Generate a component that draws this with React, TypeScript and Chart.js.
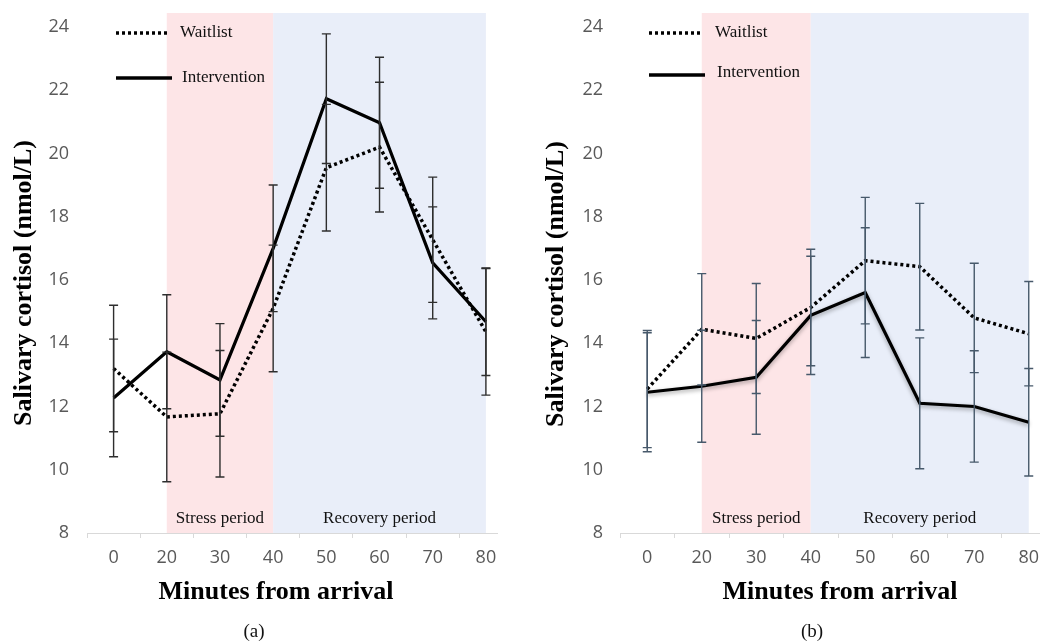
import React, { useEffect, useRef } from "react";
import { Chart, registerables } from "chart.js";
Chart.register(...registerables);

// ---- data ----
const minutes = ["0", "20", "30", "40", "50", "60", "70", "80"];
const yTicks = [8, 10, 12, 14, 16, 18, 20, 22, 24];
const stressStart = "20";
const stressEnd = "40";
const recoveryEnd = "80";

const waitlistA = [13.2, 11.67, 11.77, 15.1, 19.55, 20.2, 17.27, 14.36];
const waitlistASd = [2.0, 2.05, 2.0, 2.0, 2.0, 2.05, 1.98, 2.0];
const interventionA = [12.27, 13.73, 12.84, 17.0, 21.73, 20.97, 16.54, 14.68];
const interventionASd = [1.86, 1.8, 1.78, 2.0, 2.05, 2.07, 1.77, 1.7];

const waitlistB = [12.55, 14.44, 14.15, 15.13, 16.61, 16.42, 14.8, 14.3];
const waitlistBSd = [1.85, 1.76, 1.74, 1.84, 2.0, 2.0, 1.73, 1.65];
const interventionB = [12.45, 12.64, 12.92, 14.88, 15.6, 12.1, 12.0, 11.5];
const interventionBSd = [1.88, 1.77, 1.8, 1.87, 2.05, 2.07, 1.76, 1.7];

const SERIF = "'Liberation Serif', 'Times New Roman', serif";
const SANS = "'Open Sans', 'Noto Sans', sans-serif";

type PanelCfg = {
  left: number;
  clipWidth: number;
  canvasWidth: number;
  yAxisWidth: number;
  padRight: number;
  yTickPad: number;
  yTitleX: number;
  yTitleY: number;
  xTitleX: number;
  xTitleY: number;
  waitlist: number[];
  waitlistSd: number[];
  intervention: number[];
  interventionSd: number[];
  errColor: string;
  shadow: boolean;
  legend: { x0: number; x1: number; tx: number; y1: number; y2: number; ty2: number };
  caption: string;
  captionX: number;
};

function Panel({ cfg }: { cfg: PanelCfg }) {
  const ref = useRef<HTMLCanvasElement>(null);
  useEffect(() => {
    const periodPlugin = {
      id: "periods",
      beforeDatasetsDraw(chart: any) {
        const { ctx, chartArea: a } = chart;
        const x = chart.scales.x;
        const xs = x.getPixelForValue(minutes.indexOf(stressStart));
        const xm = x.getPixelForValue(minutes.indexOf(stressEnd));
        const xe = x.getPixelForValue(minutes.indexOf(recoveryEnd));
        ctx.save();
        ctx.fillStyle = "#fde5e7";
        ctx.fillRect(xs, a.top, xm - xs, a.bottom - a.top);
        ctx.fillStyle = "#e9eef9";
        ctx.fillRect(xm, a.top, xe - xm, a.bottom - a.top);
        ctx.fillStyle = "#111";
        ctx.font = `17px ${SERIF}`;
        ctx.textAlign = "center";
        ctx.textBaseline = "middle";
        ctx.fillText("Stress period", (xs + xm) / 2, a.bottom - 14);
        ctx.fillText("Recovery period", (xm + xe) / 2, a.bottom - 14);
        ctx.restore();
      },
    };
    const shadowPlugin = {
      id: "shadow",
      beforeDatasetDraw(chart: any, args: any) {
        if (cfg.shadow && args.index === 1) {
          const ctx = chart.ctx;
          ctx.save();
          ctx.shadowColor = "rgba(0,0,0,0.35)";
          ctx.shadowBlur = 4;
          ctx.shadowOffsetY = 2;
        }
      },
      afterDatasetDraw(chart: any, args: any) {
        if (cfg.shadow && args.index === 1) chart.ctx.restore();
      },
    };
    const errPlugin = {
      id: "errbars",
      afterDatasetsDraw(chart: any) {
        const { ctx } = chart;
        const x = chart.scales.x;
        const y = chart.scales.y;
        const sets = [
          [cfg.waitlist, cfg.waitlistSd],
          [cfg.intervention, cfg.interventionSd],
        ];
        ctx.save();
        ctx.strokeStyle = cfg.errColor;
        ctx.lineWidth = 1.4;
        sets.forEach(([vals, sds]) => {
          vals.forEach((v, i) => {
            const px = x.getPixelForValue(i);
            const t = y.getPixelForValue(v + sds[i]);
            const b = y.getPixelForValue(v - sds[i]);
            ctx.beginPath();
            ctx.moveTo(px, t);
            ctx.lineTo(px, b);
            ctx.moveTo(px - 4.5, t);
            ctx.lineTo(px + 4.5, t);
            ctx.moveTo(px - 4.5, b);
            ctx.lineTo(px + 4.5, b);
            ctx.stroke();
          });
        });
        ctx.restore();
      },
    };
    const legendPlugin = {
      id: "customLegend",
      afterDraw(chart: any) {
        const { ctx } = chart;
        const L = cfg.legend;
        ctx.save();
        ctx.strokeStyle = "#000";
        ctx.lineWidth = 3.5;
        ctx.setLineDash([3, 3]);
        ctx.beginPath();
        ctx.moveTo(L.x0, L.y1);
        ctx.lineTo(L.x1, L.y1);
        ctx.stroke();
        ctx.setLineDash([]);
        ctx.beginPath();
        ctx.moveTo(L.x0, L.y2);
        ctx.lineTo(L.x1 + 2, L.y2);
        ctx.stroke();
        ctx.fillStyle = "#111";
        ctx.font = `17px ${SERIF}`;
        ctx.textAlign = "left";
        ctx.textBaseline = "middle";
        ctx.fillText("Waitlist", L.tx, L.y1);
        ctx.fillText("Intervention", L.tx + 2, L.ty2);

        // axis titles
        ctx.fillStyle = "#000";
        ctx.font = `bold 26px ${SERIF}`;
        ctx.textAlign = "center";
        ctx.fillText("Minutes from arrival", cfg.xTitleX, cfg.xTitleY);
        ctx.translate(cfg.yTitleX, cfg.yTitleY);
        ctx.rotate(-Math.PI / 2);
        ctx.fillText("Salivary cortisol (nmol/L)", 0, 0);
        ctx.restore();
      },
    };

    const chart = new Chart(ref.current as HTMLCanvasElement, {
      type: "line",
      data: {
        labels: minutes,
        datasets: [
          {
            label: "Waitlist",
            data: cfg.waitlist,
            borderColor: "#000",
            borderWidth: 3.5,
            borderDash: [3, 3],
            pointRadius: 0,
            tension: 0,
            fill: false,
          },
          {
            label: "Intervention",
            data: cfg.intervention,
            borderColor: "#000",
            borderWidth: 3.2,
            pointRadius: 0,
            tension: 0,
            fill: false,
          },
        ],
      },
      options: {
        animation: false,
        responsive: false,
        maintainAspectRatio: false,
        layout: { padding: { top: 0, left: 0, right: cfg.padRight, bottom: 0 } },
        plugins: {
          legend: { display: false },
          tooltip: { enabled: false },
        },
        scales: {
          x: {
            type: "category",
            offset: true,
            afterFit: (s: any) => {
              s.height = 109;
              s.paddingLeft = 0;
              s.paddingRight = 0;
            },
            grid: {
              display: true,
              drawOnChartArea: false,
              drawTicks: true,
              tickLength: 5,
              color: "#d9d9d9",
              offset: true,
            },
            border: { display: true, color: "#d9d9d9", width: 1 },
            ticks: {
              font: { family: SANS, size: 18 },
              color: "#595959",
              padding: 9,
              maxRotation: 0,
              autoSkip: false,
            },
            title: { display: false },
          },
          y: {
            type: "linear",
            min: 8,
            max: 24.44,
            afterFit: (s: any) => {
              s.width = cfg.yAxisWidth;
              s.paddingTop = 13;
              s.paddingBottom = 0;
            },
            afterBuildTicks: (s: any) => {
              s.ticks = yTicks.map((v) => ({ value: v }));
            },
            grid: { display: false, drawTicks: false },
            border: { display: false },
            ticks: {
              font: { family: SANS, size: 18 },
              color: "#595959",
              padding: cfg.yTickPad,
            },
            title: { display: false },
          },
        },
      } as any,
      plugins: [periodPlugin, shadowPlugin, errPlugin, legendPlugin],
    });
    return () => chart.destroy();
  }, []);

  return (
    <>
      <div
        style={{
          position: "absolute",
          left: cfg.left,
          top: 0,
          width: cfg.clipWidth,
          height: 642,
          overflow: "hidden",
        }}
      >
        <canvas
          ref={ref}
          width={cfg.canvasWidth}
          height={642}
          style={{ display: "block", width: cfg.canvasWidth, height: 642 }}
        />
      </div>
      <div
        style={{
          position: "absolute",
          left: cfg.captionX - 30,
          width: 60,
          top: 619,
          textAlign: "center",
          fontFamily: SERIF,
          fontSize: 19,
          lineHeight: "24px",
          color: "#111",
        }}
      >
        {cfg.caption}
      </div>
    </>
  );
}

const panelA: PanelCfg = {
  left: 0,
  clipWidth: 498,
  canvasWidth: 520,
  yAxisWidth: 87,
  padRight: 7.5,
  yTickPad: 18,
  yTitleX: 24,
  yTitleY: 283,
  xTitleX: 276,
  xTitleY: 592,
  waitlist: waitlistA,
  waitlistSd: waitlistASd,
  intervention: interventionA,
  interventionSd: interventionASd,
  errColor: "#2e2e2e",
  shadow: false,
  legend: { x0: 116, x1: 170, tx: 180, y1: 33, y2: 78, ty2: 78 },
  caption: "(a)",
  captionX: 254,
};

const panelB: PanelCfg = {
  left: 520,
  clipWidth: 520,
  canvasWidth: 540,
  yAxisWidth: 100,
  padRight: 4,
  yTickPad: 17,
  yTitleX: 36,
  yTitleY: 284,
  xTitleX: 320,
  xTitleY: 592,
  waitlist: waitlistB,
  waitlistSd: waitlistBSd,
  intervention: interventionB,
  interventionSd: interventionBSd,
  errColor: "#47596b",
  shadow: true,
  legend: { x0: 129, x1: 183, tx: 195, y1: 33, y2: 75, ty2: 73 },
  caption: "(b)",
  captionX: 812,
};

export default function App() {
  return (
    <div
      style={{
        position: "fixed",
        left: 0,
        top: 0,
        width: 1040,
        height: 642,
        overflow: "hidden",
        background: "#fff",
      }}
    >
      <Panel cfg={panelA} />
      <Panel cfg={panelB} />
    </div>
  );
}
